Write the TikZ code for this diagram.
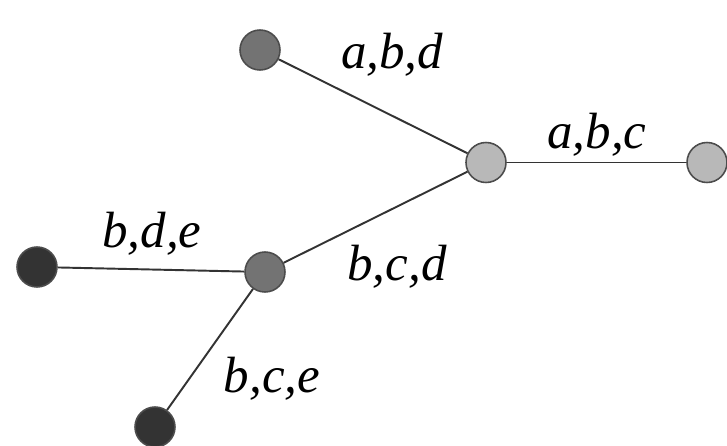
\documentclass[tikz,border=0pt]{standalone}
\usepackage{fontspec}
\setmainfont{Liberation Serif}[ItalicFont={Liberation Serif Italic}]
\usepackage{tikz}
\usepackage{xcolor}
\usetikzlibrary{positioning}

\begin{document}
\begin{tikzpicture}[
  vert/.style={circle, draw=black!70, line width=0.9pt, minimum size=0.8cm, inner sep=0pt, fill=#1},
  lnk/.style={draw=black!80, line width=1.1pt},
  lbl/.style={anchor=base, font=\fontsize{29}{31}\selectfont\rmfamily\itshape}
]
\useasboundingbox (0,0) rectangle (14.54,-8.92);
\node[vert=black!55] (abd) at (5.2,-1.0) {};
\node[vert=black!28] (hub) at (9.72,-3.25) {};
\node[vert=black!28] (abc) at (14.14,-3.25) {};
\node[vert=black!80] (bde) at (0.74,-5.34) {};
\node[vert=black!55] (bcd) at (5.3,-5.44) {};
\node[vert=black!80] (bce) at (3.1,-8.54) {};

\draw[lnk] (abd) -- (hub);
\draw[lnk] (hub) -- (abc);
\draw[lnk] (bde) -- (bcd);
\draw[lnk] (bcd) -- (hub);
\draw[lnk] (bcd) -- (bce);

\node[lbl] (t1) at (7.84,-1.36) {a,b,d};
\node[lbl] (t2) at (11.94,-2.96) {a,b,c};
\node[lbl] (t3) at (3.04,-4.94) {b,d,e};
\node[lbl] (t4) at (7.94,-5.6) {b,c,d};
\node[lbl] (t5) at (5.44,-7.84) {b,c,e};
\end{tikzpicture}
\end{document}
